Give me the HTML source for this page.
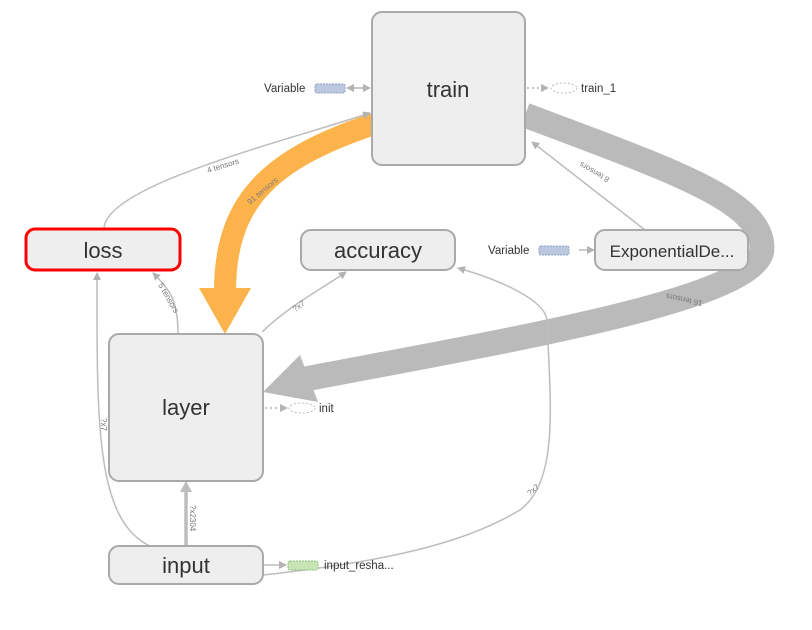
<!DOCTYPE html>
<html><head><style>
html,body{margin:0;padding:0;background:#fff;}
svg{display:block;font-family:"Liberation Sans",sans-serif;}
</style></head><body>
<svg width="812" height="630" viewBox="0 0 812 630">
<defs>
<marker id="a" markerWidth="8" markerHeight="8" refX="7" refY="4" orient="auto" markerUnits="userSpaceOnUse"><path d="M0,0L8,4L0,8z" fill="#b3b3b3"/></marker>
</defs>
<path d="M525,115 C670,170 762,200 762,248 C762,298 520,338 300,380" fill="none" stroke="#bababa" stroke-width="25"/>
<polygon points="263,392 300,355 318,402" fill="#bababa"/>
<path d="M374,124 C265,160 225,205 225,292" fill="none" stroke="#fdb34b" stroke-width="22"/>
<polygon points="199,288 251,288 225,334" fill="#fdb34b"/>
<g fill="none" stroke="#bdbdbd" stroke-width="1.5" marker-end="url(#a)">
<path d="M104,229 C104,185 290,140 370,113"/>
<path d="M645,230 L532,142"/>
<path d="M178,334 C178,300 170,290 153,273"/>
<path d="M262,332 C290,305 320,290 346,272"/>
<path d="M150,546 C95,520 97,420 97,273"/>
<path d="M263,575 C400,560 470,540 520,510 C560,480 550,400 547,320 C545,300 500,280 458,268"/>
<path d="M579,250 L594,250"/>
<path d="M264,565 L286,565"/>
</g>
<path d="M186,546 L186,485" stroke="#bdbdbd" stroke-width="3.5" fill="none"/>
<polygon points="180,492 186,481 192,492" fill="#bdbdbd"/>
<path d="M352,88 L364,88" stroke="#b3b3b3" stroke-width="1.5"/>
<polygon points="346,88 354,84 354,92" fill="#b3b3b3"/>
<polygon points="371,88 363,84 363,92" fill="#b3b3b3"/>
<path d="M527,88 L542,88" stroke="#b3b3b3" stroke-width="1.5" stroke-dasharray="2,3"/>
<polygon points="541,84 549,88 541,92" fill="#b3b3b3"/>
<path d="M265,408 L280,408" stroke="#b3b3b3" stroke-width="1.5" stroke-dasharray="2,3"/>
<polygon points="280,404 288,408 280,412" fill="#b3b3b3"/>
<g font-size="8" fill="#777">
<text transform="translate(208,173) rotate(-17)">4 tensors</text>
<text transform="translate(250,205) rotate(-40)">91 tensors</text>
<text transform="translate(610,178) rotate(210)" >8 tensors</text>
<text transform="translate(158,285) rotate(60)">5 tensors</text>
<text transform="translate(295,312) rotate(-35)">?x7</text>
<text transform="translate(101,418) rotate(90)">?x7</text>
<text transform="translate(190,505) rotate(90)">?x2304</text>
<text transform="translate(530,496) rotate(-40)">?x7</text>
<text transform="translate(703,301) rotate(192)">16 tensors</text>
</g>
<g fill="#eeeeee" stroke="#a9a9a9" stroke-width="2">
<rect x="372" y="12" width="153" height="153" rx="10"/>
<rect x="301" y="230" width="154" height="40" rx="10"/>
<rect x="595" y="230" width="153" height="40" rx="10"/>
<rect x="109" y="334" width="154" height="147" rx="10"/>
<rect x="109" y="546" width="154" height="38" rx="10"/>
</g>
<rect x="26" y="229" width="154" height="41" rx="9" fill="#eeeeee" stroke="#f00" stroke-width="3"/>
<g font-size="22" fill="#333" text-anchor="middle">
<text x="448" y="97">train</text>
<text x="103" y="258">loss</text>
<text x="378" y="258">accuracy</text>
<text x="186" y="415">layer</text>
<text x="186" y="573">input</text>
</g>
<text x="672" y="257" font-size="17" fill="#333" text-anchor="middle">ExponentialDe...</text>
<rect x="315" y="84" width="30" height="9" rx="2" fill="#bcc7e0" stroke="#8fa0c6" stroke-dasharray="2,1"/>
<rect x="539" y="246" width="30" height="9" rx="2" fill="#bcc7e0" stroke="#8fa0c6" stroke-dasharray="2,1"/>
<rect x="288" y="561" width="30" height="9" rx="2" fill="#c6e4b6" stroke="#8fc07a" stroke-dasharray="2,1"/>
<ellipse cx="564" cy="88" rx="13" ry="5" fill="#fff" stroke="#bbb" stroke-dasharray="2,2"/>
<ellipse cx="302" cy="408" rx="13" ry="5" fill="#fff" stroke="#bbb" stroke-dasharray="2,2"/>
<g font-size="11.5" fill="#333">
<text x="264" y="92">Variable</text>
<text x="488" y="254">Variable</text>
<text x="581" y="92">train_1</text>
<text x="319" y="412">init</text>
<text x="324" y="569">input_resha...</text>
</g>
</svg>
</body></html>
